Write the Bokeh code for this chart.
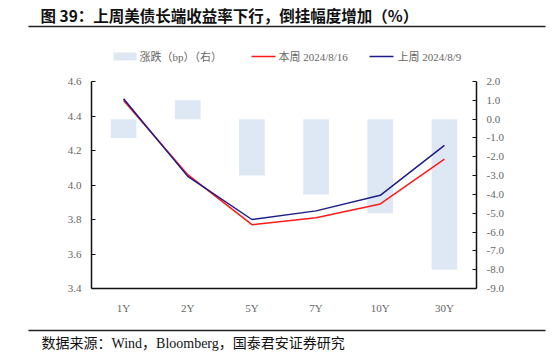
from bokeh.plotting import figure
from bokeh.layouts import column
from bokeh.models import Range1d, FactorRange, LinearAxis, FixedTicker, NumeralTickFormatter
from bokeh.core.properties import value
from bokeh.embed import file_html
from bokeh.resources import INLINE

# ---- data ----
tenors = ["1Y", "2Y", "5Y", "7Y", "10Y", "30Y"]
this_week = [4.49, 4.06, 3.77, 3.81, 3.89, 4.15]   # 本周 2024/8/16
last_week = [4.50, 4.05, 3.80, 3.85, 3.94, 4.23]   # 上周 2024/8/9
change_bp = [-1.0, 1.0, -3.0, -4.0, -5.0, -8.0]    # 涨跌（bp）（右）
left_ticks = [3.4, 3.6, 3.8, 4.0, 4.2, 4.4, 4.6]
right_ticks = [-9, -8, -7, -6, -5, -4, -3, -2, -1, 0, 1, 2]

title_text = "图 39：上周美债长端收益率下行，倒挂幅度增加（%）"
legend_labels = ["涨跌（bp）（右）", "本周 2024/8/16", "上周 2024/8/9"]
source_text = "数据来源：Wind，Bloomberg，国泰君安证券研究"

FONT = "Liberation Serif, Noto Sans CJK SC"
BAR_COLOR = "#dde8f4"
RED = "#ff1a1a"
NAVY = "#1c1c8a"
RULE = "#222222"
W = 553

def blank(h):
    f = figure(width=W, height=h, x_range=Range1d(0, W), y_range=Range1d(h, 0),
               output_backend="svg", toolbar_location=None,
               x_axis_location=None, y_axis_location=None, min_border=0,
               frame_align=False)
    f.grid.visible = False
    f.outline_line_color = None
    return f

# ---- header ----
hdr = blank(70)
hdr.text(x=[40], y=[14], text=[title_text], text_font=value("Noto Sans CJK SC"),
         text_font_style="bold", text_font_size="15.5px", text_baseline="middle",
         text_color="#111111")
hdr.quad(left=[28], right=[545], top=[25.3], bottom=[26.8], fill_color=RULE, line_color=None)
# legend
hdr.quad(left=[113], right=[136], top=[52], bottom=[60], fill_color=BAR_COLOR, line_color=None)
hdr.quad(left=[251, 369], right=[275, 393], top=[55.3, 55.3], bottom=[56.8, 56.8],
         fill_color=[RED, NAVY], line_color=None)
hdr.text(x=[139, 278, 397], y=[56, 56, 56], text=legend_labels, text_font=value(FONT),
         text_font_size="11px", text_baseline="middle", text_color="#666666")

# ---- main chart ----
p = figure(width=W, height=250, x_range=FactorRange(*tenors, range_padding=0),
           y_range=Range1d(3.4, 4.6), output_backend="svg", toolbar_location=None,
           min_border_left=91, min_border_right=77, min_border_top=11, min_border_bottom=32,
           y_axis_location=None, frame_align=False)
p.extra_y_ranges = {"right": Range1d(-9, 2)}
p.grid.visible = False
p.outline_line_color = None

p.vbar(x=tenors, top=change_bp, bottom=0, width=0.4, y_range_name="right",
       fill_color=BAR_COLOR, line_color=None)
p.line(x=tenors, y=this_week, line_color=RED, line_width=1.5)
p.line(x=tenors, y=last_week, line_color=NAVY, line_width=1.5)

def style_axis(ax):
    ax.axis_line_color = "#111111"
    ax.axis_line_width = 1.5
    ax.major_label_text_font = FONT
    ax.major_label_text_font_size = "11px"
    ax.major_label_text_color = "#666666"
    ax.minor_tick_line_color = None

yl = LinearAxis(ticker=FixedTicker(ticks=left_ticks), formatter=NumeralTickFormatter(format="0.0"))
style_axis(yl)
yl.major_tick_in = 4
yl.major_tick_out = 0
yl.major_tick_line_color = "#111111"
yl.major_label_standoff = 10
p.add_layout(yl, "left")

yr = LinearAxis(y_range_name="right", ticker=FixedTicker(ticks=right_ticks),
                formatter=NumeralTickFormatter(format="0.0"))
style_axis(yr)
yr.major_tick_in = 4
yr.major_tick_out = 0
yr.major_tick_line_color = "#111111"
yr.major_label_standoff = 10
p.add_layout(yr, "right")

xa = p.xaxis[0]
style_axis(xa)
xa.major_tick_line_color = None
xa.major_label_standoff = 7

# ---- footer ----
ftr = blank(32)
ftr.quad(left=[28], right=[545], top=[9.3], bottom=[10.8], fill_color=RULE, line_color=None)
ftr.text(x=[41], y=[23], text=[source_text], text_font=value(FONT),
         text_font_size="14px", text_baseline="middle", text_color="#111111")

layout = column(hdr, p, ftr, spacing=0)
open("out.html", "w").write(file_html(layout, INLINE))
